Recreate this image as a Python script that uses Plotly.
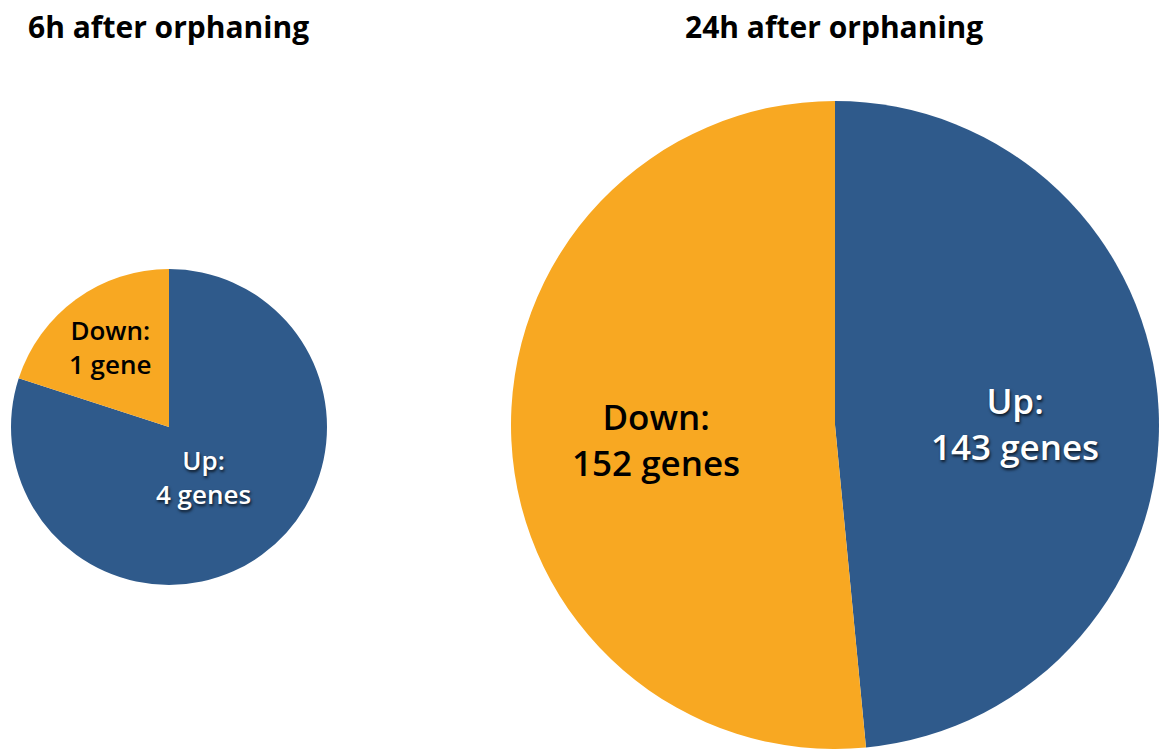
import plotly.graph_objects as go

# Differentially expressed gene counts after orphaning
timepoints = ["6h after orphaning", "24h after orphaning"]
directions = ["Up", "Down"]
up_counts = [4, 143]
down_counts = [1, 152]

BLUE = "#2F5A8B"
ORANGE = "#F8A822"
W, H = 1160, 749


def gene_word(n):
    return "gene" if n == 1 else "genes"


fig = go.Figure()

# pie domains in pixels: (x0, x1, y0, y1) with y measured from bottom
domains = [(11, 327, 164, 480), (511, 1159, 0, 648)]

for i, (t, u, d) in enumerate(zip(timepoints, up_counts, down_counts)):
    x0, x1, y0, y1 = domains[i]
    fig.add_trace(go.Pie(
        labels=directions,
        values=[u, d],
        sort=False,
        direction="clockwise",
        rotation=0,
        marker=dict(colors=[BLUE, ORANGE], line=dict(width=0)),
        textinfo="none",
        hoverinfo="label+value",
        showlegend=False,
        domain=dict(x=[x0 / W, x1 / W], y=[y0 / H, y1 / H]),
    ))

# slice labels: (direction index, pie index, x px, y px from top, size)
label_spots = [
    (1, 0, 110, 347, 26),
    (0, 0, 203, 477, 26),
    (1, 1, 656, 439, 35),
    (0, 1, 1015, 423, 35),
]
for di, pi, x, y, size in label_spots:
    n = [up_counts, down_counts][di][pi]
    text = f"{directions[di]}:<br>{n} {gene_word(n)}"
    if di == 0:
        font = dict(family="Open Sans", size=size, color="white",
                    weight=600, shadow="1px 2px 3px rgba(0,0,0,0.75)")
    else:
        font = dict(family="Open Sans", size=size, color="black", weight=600)
    fig.add_annotation(x=x / W, y=1 - y / H, xref="paper", yref="paper",
                       text=text, showarrow=False, font=font,
                       xanchor="center", yanchor="middle", align="center")

# panel titles
for t, x in zip(timepoints, [168, 834]):
    fig.add_annotation(x=x / W, y=1 - 27 / H, xref="paper", yref="paper",
                       text=f"<b>{t}</b>", showarrow=False,
                       font=dict(family="Open Sans", size=30, color="black"),
                       xanchor="center", yanchor="middle")

fig.update_layout(
    width=W, height=H,
    margin=dict(l=0, r=0, t=0, b=0),
    paper_bgcolor="white",
    plot_bgcolor="white",
)

fig.write_html("out.html")
